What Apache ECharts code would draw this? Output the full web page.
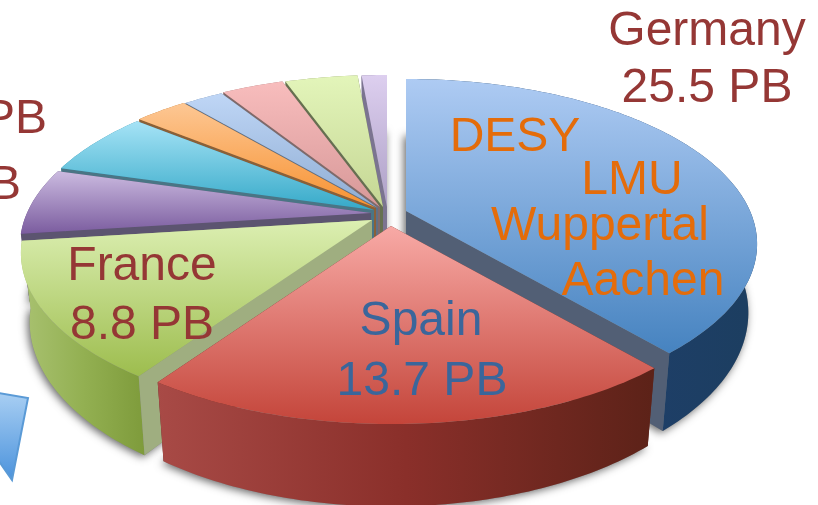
<!DOCTYPE html>
<html>
<head>
<meta charset="utf-8">
<style>
  html, body { margin: 0; padding: 0; background: #fff; overflow: hidden; }
  #Chart { width: 818px; height: 505px; }
</style>
<script src="https://cdn.jsdelivr.net/npm/echarts@6/dist/echarts.min.js"></script>
</head>
<body>
<div id="Chart"></div>
<script>
  // slices run clockwise from 12 o'clock, values in PB
  var names = ['Germany', 'Spain', 'France', 'Slice 4', 'Slice 5', 'Slice 6', 'Slice 7', 'Slice 8', 'Slice 9', 'Slice 10']
  var values = [25.5, 13.7, 8.8, 4.3, 4.2, 1.95, 1.46, 2.28, 2.67, 0.93]

  // look of each slice
  var topColors = [
    ['#aecbf3', '#4683c0'], ['#f8aaa6', '#c4453a'], ['#dcefb2', '#9dbd4e'],
    ['#cbbbe0', '#7b5c9f'], ['#a6e3f6', '#35a9c8'], ['#fdc794', '#f79231'],
    ['#bfd6f6', '#8fadd3'], ['#f8bdbd', '#d79898'], ['#e3f5ba', '#c5d694'], ['#ddcfef', '#ada0c6']
  ]
  var sideColors = [
    ['#163a55', '#1f3f6c', '#1c3e60'], ['#a84a46', '#8a2f2a', '#5c2218'], ['#a9c271', '#93b052', '#7e9b3b'],
    ['#6b4f8a', '#5b4478', '#5b4478'], ['#2b8ba5', '#2b8ba5', '#2b8ba5'], ['#b96f25', '#b96f25', '#b96f25'],
    ['#6c84a5', '#6c84a5', '#6c84a5'], ['#a57474', '#a57474', '#a57474'], ['#8d9a68', '#8d9a68', '#8d9a68'], ['#85789a', '#85789a', '#85789a']
  ]
  var wallColors = ['#525f75', '#5f2a24', '#9fae80', '#5c5470', '#4a7585', '#8a6038', '#5f7086', '#7f6a6a', '#667050', '#7b7490']
  // where each slice's tip sits once pulled out of the pie
  var tipX = [406, 391, 372, 371, 374, 376, 378, 380, 383, 387]
  var tipY = [211, 226, 220, 213, 210, 208, 208, 207, 207, 207]
  var drawOrder = [8, 9, 7, 6, 5, 4, 3, 2, 1, 0]  // higher is on top

  var RX = 344, RY = 158.4, PERSP = 0.2, DEPTH = 66, TAPER = 0.975

  var Chart = echarts.init(document.getElementById('Chart'), null, { renderer: 'canvas' })
  var total = values.reduce(function (a, b) { return a + b }, 0)

  function rimPoint(i, deg) {
    var a = deg * Math.PI / 180
    var u = Math.sin(a), v = -Math.cos(a)
    var w = 1 / (1 - PERSP * v)
    return { x: tipX[i] + RX * u * w, y: tipY[i] + RY * v * w, w: w }
  }
  function lower(i, p) {
    return [tipX[i] + (p.x - tipX[i]) * TAPER, p.y + DEPTH * p.w]
  }
  function hGrad(c) {
    return new echarts.graphic.LinearGradient(0, 0, 1, 0, [
      { offset: 0, color: c[0] }, { offset: 0.5, color: c[1] }, { offset: 1, color: c[2] }
    ])
  }
  function vGrad(c) {
    return new echarts.graphic.LinearGradient(0, 0, 0, 1, [
      { offset: 0, color: c[0] }, { offset: 1, color: c[1] }
    ])
  }

  function renderSlice(params, api) {
    var i = params.dataIndex
    var start = 0
    for (var j = 0; j < i; j++) start += values[j] / total * 360
    var end = start + api.value(0) / total * 360
    var rim = []
    for (var d = start; d < end; d += 1) rim.push(rimPoint(i, d))
    rim.push(rimPoint(i, end))

    var tip = [tipX[i], tipY[i]]
    var tipLow = [tipX[i], tipY[i] + DEPTH * 1.03]
    var first = rim[0], last = rim[rim.length - 1]
    var base = drawOrder[i] * 10

    var topPts = [tip].concat(rim.map(function (p) { return [p.x, p.y] }))
    var lowPts = rim.map(function (p) { return lower(i, p) })
    var outerPts = rim.map(function (p) { return [p.x, p.y] }).concat(lowPts.slice().reverse())

    function poly(points, fill, z, extra) {
      var style = { fill: fill }
      if (extra) for (var k in extra) style[k] = extra[k]
      return { type: 'polygon', z2: base + z, shape: { points: points }, style: style }
    }
    // the soft shadow comes from the underside only
    var shadow = { shadowBlur: 9, shadowColor: 'rgba(0,0,0,0.6)', shadowOffsetX: -2, shadowOffsetY: 2 }
    // the start wall faces away on the right half of the pie
    var startZ = start < 180 ? 1 : 4

    return {
      type: 'group',
      children: [
        poly([tipLow].concat(lowPts), '#888', 0, shadow),
        poly([tip, [first.x, first.y], lower(i, first), tipLow], wallColors[i], startZ),
        poly([tip, [last.x, last.y], lower(i, last), tipLow], wallColors[i], 2),
        poly(outerPts, hGrad(sideColors[i]), 3),
        poly(topPts, vGrad(topColors[i]), 5)
      ]
    }
  }

  var RED = '#953735', ORANGE = '#e46c0a', BLUE = '#3a669b'
  var labelFont = '48px "Liberation Sans", Arial, sans-serif'
  function label(text, x, y, color, align) {
    return {
      type: 'text', z: 10,
      style: { text: text, x: x, y: y, fill: color, font: labelFont, align: align || 'center', verticalAlign: 'middle' }
    }
  }

  Chart.setOption({
    animation: false,
    backgroundColor: '#fff',
    series: [{
      type: 'custom',
      coordinateSystem: 'none',
      silent: true,
      clip: false,
      data: values.map(function (v, i) { return { name: names[i], value: [v] } }),
      renderItem: renderSlice
    }],
    graphic: [
      {
        type: 'polygon', z: 9,
        shape: { points: [[-2, 393], [28, 398], [12, 480], [-2, 460]] },
        style: {
          fill: new echarts.graphic.LinearGradient(0, 0, 0, 1, [
            { offset: 0, color: '#a9cff3' }, { offset: 1, color: '#4a92dc' }
          ]),
          stroke: '#5a9ad6', lineWidth: 2
        }
      },
      label(names[0], 707, 32, RED),
      label(values[0].toFixed(1) + ' PB', 707, 89, RED),
      label(names[1], 421, 322, BLUE),
      label(values[1].toFixed(1) + ' PB', 422, 382, BLUE),
      label(names[2], 142, 267, RED),
      label(values[2].toFixed(1) + ' PB', 142, 326, RED),
      label('DESY', 515, 138, ORANGE),
      label('LMU', 632, 181, ORANGE),
      label('Wuppertal', 600, 227, ORANGE),
      label('Aachen', 643, 282, ORANGE),
      label('PB', 47, 120, RED, 'right'),
      label('B', 21, 186, RED, 'right')
    ]
  })
</script>
</body>
</html>
